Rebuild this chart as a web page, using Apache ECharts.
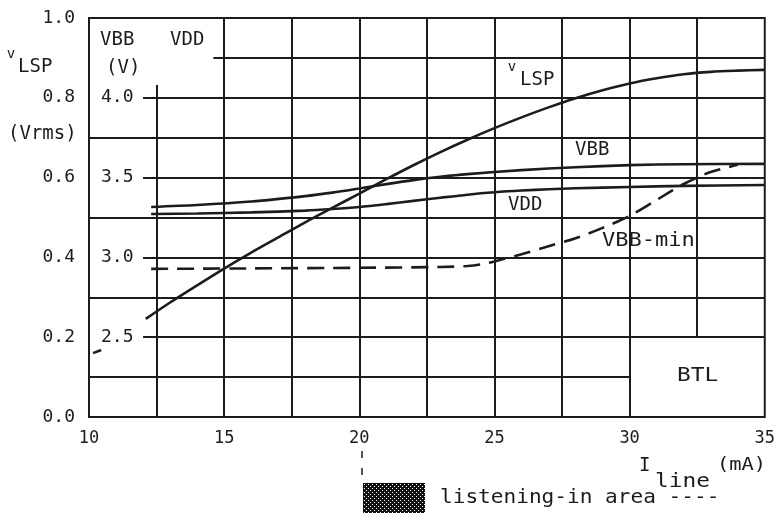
<!DOCTYPE html>
<html>
<head>
<meta charset="utf-8">
<script src="https://cdn.jsdelivr.net/npm/echarts@6/dist/echarts.min.js"></script>
<style>
html,body{margin:0;padding:0;background:#fff;}
#chart{width:778px;height:522px;}
</style>
</head>
<body>
<div id="chart"></div>
<script>
// I_line in mA, v_LSP in Vrms (left scale)
var vlspCurrent = [12.1, 13, 14, 15, 16, 17, 18, 19, 20, 21, 22, 23, 24, 25, 26, 27, 28, 29, 30, 31, 32, 33, 34, 35];
var vlspValues = [0.246, 0.287, 0.330, 0.372, 0.412, 0.450, 0.488, 0.524, 0.560, 0.596, 0.631, 0.664, 0.695, 0.724, 0.751, 0.776, 0.799, 0.819, 0.836, 0.849, 0.859, 0.865, 0.868, 0.870];
// the one dash of v_LSP below 12 mA
var vlspLowCurrent = [10.15, 10.45];
var vlspLowValues = [0.160, 0.168];

// VBB / VDD in V (right scale, drawn inside)
var vbbCurrent = [12.3, 14, 16, 18, 19, 20, 21, 22, 23, 24, 26, 28, 30, 32, 35];
var vbbValues = [3.316, 3.328, 3.350, 3.384, 3.406, 3.432, 3.459, 3.484, 3.505, 3.522, 3.547, 3.565, 3.578, 3.584, 3.586];
var vddCurrent = [12.3, 14, 16, 18, 19, 20, 21, 22, 23, 24, 25, 26, 27, 28, 30, 32, 35];
var vddValues = [3.272, 3.275, 3.282, 3.293, 3.303, 3.316, 3.334, 3.354, 3.374, 3.393, 3.408, 3.419, 3.427, 3.433, 3.441, 3.448, 3.454];
var vbbMinCurrent = [12.3, 16, 20, 23, 24, 24.5, 25, 26, 27, 28, 29, 30, 31, 32, 33, 34];
var vbbMinValues = [2.928, 2.931, 2.935, 2.94, 2.946, 2.956, 2.975, 3.02, 3.07, 3.12, 3.185, 3.26, 3.36, 3.46, 3.535, 3.58];

var xTicks = [10, 15, 20, 25, 30, 35];
var vlspTicks = [0, 0.2, 0.4, 0.6, 0.8, 1.0];
var voltTicks = [2.5, 3.0, 3.5, 4.0];

function pairs(xs, ys) {
  return xs.map(function (x, i) { return [x, ys[i]]; });
}

var FONT = 'DejaVu Sans Mono';
var INK = '#1c1c1c';

// grid rules of the plot paper (in axis units, left scale)
var rules = [
  [[14.6, 0.9], [35, 0.9]],
  [[12, 0.8], [35, 0.8]],
  [[10, 0.7], [35, 0.7]],
  [[12, 0.6], [35, 0.6]],
  [[10, 0.5], [35, 0.5]],
  [[12, 0.4], [35, 0.4]],
  [[10, 0.3], [35, 0.3]],
  [[12, 0.2], [35, 0.2]],
  [[10, 0.1], [30, 0.1]],
  [[12.5, 0.832], [12.5, 0]],
  [[15, 1], [15, 0]],
  [[17.5, 1], [17.5, 0]],
  [[20, 1], [20, 0]],
  [[22.5, 1], [22.5, 0]],
  [[25, 1], [25, 0]],
  [[27.5, 1], [27.5, 0]],
  [[30, 1], [30, 0]],
  [[32.5, 1], [32.5, 0.2]]
];

// checkered fill for the listening-in box
var pat = document.createElement('canvas');
pat.width = 4; pat.height = 4;
var pc = pat.getContext('2d');
pc.fillStyle = '#111';
pc.fillRect(0, 0, 4, 4);
pc.fillStyle = '#fff';
pc.fillRect(0, 0, 1, 1);
pc.fillRect(2, 2, 1, 1);

function txt(x, y, s, size, sx, align) {
  return {
    type: 'text', x: x, y: y, z: 10, scaleX: sx || 1,
    style: { text: s, fill: INK, font: (size || 18) + 'px "' + FONT + '"', align: align || 'left', verticalAlign: 'middle' }
  };
}

var curveStyle = { color: INK, width: 2.6 };

var chart = echarts.init(document.getElementById('chart'));
chart.setOption({
  backgroundColor: '#fff',
  animation: false,
  grid: { left: 89, right: 11, top: 18, bottom: 105, show: true, borderColor: INK, borderWidth: 2 },
  xAxis: {
    type: 'value', min: 10, max: 35, interval: 5,
    axisLine: { show: false }, axisTick: { show: false }, splitLine: { show: false },
    axisLabel: {
      color: INK, fontFamily: FONT, fontSize: 17, margin: 13,
      formatter: function (v) { return xTicks.indexOf(v) >= 0 ? String(v) : ''; }
    }
  },
  yAxis: [{
    type: 'value', min: 0, max: 1, interval: 0.2, position: 'left',
    axisLine: { show: false }, axisTick: { show: false }, splitLine: { show: false },
    axisLabel: {
      color: INK, fontFamily: FONT, fontSize: 18, margin: 14,
      formatter: function (v) { return v.toFixed(1); }
    }
  }, {
    type: 'value', min: 2.0, max: 4.5, interval: 0.5, position: 'left',
    axisLine: { show: false }, axisTick: { show: false }, splitLine: { show: false },
    axisLabel: {
      inside: true, color: INK, fontFamily: FONT, fontSize: 18, margin: 12,
      formatter: function (v) {
        var r = Math.round(v * 10) / 10;
        return voltTicks.indexOf(r) >= 0 ? r.toFixed(1) : '';
      }
    }
  }],
  series: [{
    type: 'lines', coordinateSystem: 'cartesian2d', silent: true,
    lineStyle: { color: INK, width: 2, opacity: 1 },
    data: rules.map(function (r) { return { coords: r }; })
  }, {
    name: 'vLSP', type: 'line', yAxisIndex: 0, smooth: 0.3, symbol: 'none',
    lineStyle: curveStyle, data: pairs(vlspCurrent, vlspValues)
  }, {
    name: 'vLSP low', type: 'line', yAxisIndex: 0, symbol: 'none',
    lineStyle: curveStyle, data: pairs(vlspLowCurrent, vlspLowValues)
  }, {
    name: 'VBB', type: 'line', yAxisIndex: 1, smooth: 0.3, symbol: 'none',
    lineStyle: curveStyle, data: pairs(vbbCurrent, vbbValues)
  }, {
    name: 'VDD', type: 'line', yAxisIndex: 1, smooth: 0.3, symbol: 'none',
    lineStyle: curveStyle, data: pairs(vddCurrent, vddValues)
  }, {
    name: 'VBB-min', type: 'line', yAxisIndex: 1, smooth: 0.3, symbol: 'none',
    lineStyle: { color: INK, width: 2.6, type: [17, 9] }, data: pairs(vbbMinCurrent, vbbMinValues)
  }],
  graphic: [
    txt(11, 54, 'v', 14, 1, 'center'),
    txt(18, 67, 'LSP', 19),
    txt(8, 134, '(Vrms)', 19),
    txt(100, 40, 'VBB', 19),
    txt(170, 40, 'VDD', 19),
    txt(106, 68, '(V)', 19),
    txt(512, 67, 'v', 14, 1, 'center'),
    txt(520, 80, 'LSP', 19),
    txt(575, 150, 'VBB', 19),
    txt(508, 205, 'VDD', 19),
    txt(602, 241, 'VBB-min', 19, 1.16),
    txt(677, 376, 'BTL', 19, 1.2),
    txt(639, 466, 'I', 19),
    txt(655, 482, 'line', 19, 1.2),
    txt(717, 466, '(mA)', 17, 1.2),
    {
      type: 'line', shape: { x1: 362, y1: 451, x2: 362, y2: 477 },
      style: { stroke: INK, lineWidth: 1.5, lineDash: [7, 10] }
    },
    {
      type: 'rect', shape: { x: 363, y: 483, width: 62, height: 30 },
      style: { fill: { image: pat, repeat: 'repeat' } }
    },
    txt(440, 498, 'listening-in area ----', 19, 1.11)
  ]
});
</script>
</body>
</html>
